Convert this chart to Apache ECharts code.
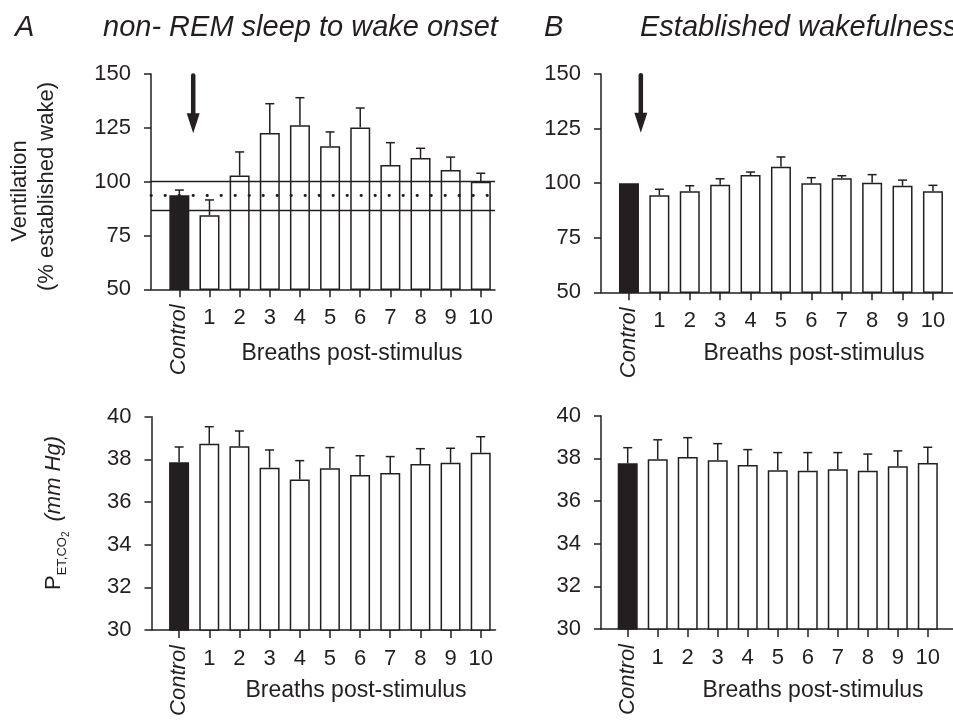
<!DOCTYPE html>
<html><head><meta charset="utf-8">
<script src="https://cdn.jsdelivr.net/npm/echarts@6/dist/echarts.min.js"></script>
<style>html,body{margin:0;padding:0;background:#fff}#c{width:953px;height:721px}</style>
</head><body><div id="c"></div>
<script>
// ---------- data ----------
const categories = ['Control','1','2','3','4','5','6','7','8','9','10'];
const breathIdx = [0,1,2,3,4,5,6,7,8,9,10];

// Ventilation (% established wake)
const ventNrem    = [93.7, 84.4, 102.8, 122.6, 126.2, 116.4, 125.1, 107.7, 111.0, 105.4, 100.0];
const ventNremErr = [2.4, 7.1, 11.0, 13.6, 12.8, 6.7, 9.1, 10.4, 4.5, 6.0, 3.9];
const ventWake    = [100.0, 94.4, 96.3, 99.3, 103.7, 107.5, 99.9, 102.2, 100.2, 98.8, 96.3];
const ventWakeErr = [0, 2.8, 2.5, 2.7, 1.4, 4.5, 2.6, 1.2, 3.7, 2.6, 2.7];

// PET,CO2 (mm Hg)
const petNrem    = [37.86, 38.73, 38.61, 37.61, 37.05, 37.58, 37.27, 37.36, 37.78, 37.84, 38.31];
const petNremErr = [0.72, 0.80, 0.72, 0.83, 0.89, 0.97, 0.90, 0.77, 0.72, 0.68, 0.75];
const petWake    = [37.77, 37.96, 38.06, 37.91, 37.69, 37.44, 37.42, 37.49, 37.42, 37.63, 37.78];
const petWakeErr = [0.73, 0.91, 0.91, 0.78, 0.72, 0.83, 0.85, 0.78, 0.78, 0.72, 0.74];

// Established-wake control band in panel A: [mean - SD, mean, mean + SD]
const nremBand = [86.9, 93.7, 100.4];

// tick labels
const ventTicks = [50, 75, 100, 125, 150];
const petTicks  = [30, 32, 34, 36, 38, 40];

// stimulus arrows: [x position, top value, tip value]
const arrowA = [0.46, 149.3, 122.5];
const arrowB = [0.39, 149.4, 123.1];

// ---------- chart ----------
const INK = '#231f20';
const FONT = 'Liberation Sans';
const chart = echarts.init(document.getElementById('c'), null, {renderer:'canvas'});

const grids = [
  {left:151, top:74, width:344, height:215.3},
  {left:601, top:74, width:352, height:218.3},
  {left:151.5, top:416.7, width:344, height:213.3},
  {left:601, top:415.7, width:352, height:213.3}
];
const xr = [[-0.94, 10.47], [-0.92, 10.66], [-0.915, 10.49], [-0.89, 10.84]];

function xMain(g){
  return {type:'value', gridIndex:g, min:xr[g][0], max:xr[g][1], position:'bottom',
    axisLine:{show:true, onZero:false, lineStyle:{color:INK, width:1.5}},
    axisTick:{show:true, customValues:breathIdx, length:8, lineStyle:{color:INK, width:1.5}},
    axisLabel:{show:true, customValues:breathIdx.slice(1), formatter:v=>categories[v],
      fontSize:22, color:INK, margin:18, fontFamily:FONT},
    splitLine:{show:false}};
}
function xCtrl(g){
  return {type:'value', gridIndex:g, min:xr[g][0], max:xr[g][1], position:'bottom', offset:0,
    axisLine:{show:false, onZero:false}, axisTick:{show:false}, splitLine:{show:false},
    axisLabel:{show:true, customValues:[0], formatter:()=>categories[0], rotate:90,
      fontStyle:'italic', fontSize:22, color:INK, margin:15, fontFamily:FONT}};
}
function yAx(g, ticks){
  return {type:'value', gridIndex:g, min:ticks[0], max:ticks[ticks.length-1], interval:ticks[1]-ticks[0],
    position:'left',
    axisLine:{show:true, onZero:false, lineStyle:{color:INK, width:1.5}},
    axisTick:{show:true, length:7, lineStyle:{color:INK, width:1.5}},
    axisLabel:{fontSize:22, color:INK, margin:20, fontFamily:FONT},
    splitLine:{show:false}};
}

function barSeries(g, vals){
  return {type:'bar', xAxisIndex:g, yAxisIndex:g, barWidth:20, animation:false, z:2,
    data: breathIdx.map((x,i)=>({value:[x, vals[i]], itemStyle:{color: i===0 ? INK : '#ffffff'}})),
    itemStyle:{borderColor:INK, borderWidth:1.5}};
}
function errSeries(g, vals, errs, extra){
  const s = {type:'custom', xAxisIndex:g, yAxisIndex:g, animation:false, z:3, silent:true,
    data: breathIdx.map((x,i)=>[x, vals[i], errs[i]]),
    encode:{x:0, y:1},
    renderItem(params, api){
      const x = api.value(0), v = api.value(1), e = api.value(2);
      if (!e) return {type:'group', children:[]};
      const b = api.coord([x, v]); const t = api.coord([x, v+e]);
      return {type:'group', children:[
        {type:'line', shape:{x1:b[0], y1:b[1], x2:t[0], y2:t[1]}, style:{stroke:INK, lineWidth:1.5}},
        {type:'line', shape:{x1:t[0]-4.5, y1:t[1], x2:t[0]+4.5, y2:t[1]}, style:{stroke:INK, lineWidth:1.5}}
      ]};
    }};
  return Object.assign(s, extra||{});
}
function arrowSeries(g, arr){
  return {type:'custom', xAxisIndex:g, yAxisIndex:g, animation:false, z:4, silent:true,
    data:[arr], encode:{x:0, y:[1,2]},
    renderItem(params, api){
      const top = api.coord([api.value(0), api.value(1)]);
      const tip = api.coord([api.value(0), api.value(2)]);
      const hl = 20, hw = 6.5;
      return {type:'group', children:[
        {type:'line', shape:{x1:top[0], y1:top[1], x2:tip[0], y2:tip[1]-hl+2},
          style:{stroke:INK, lineWidth:4.5, lineCap:'round'}},
        {type:'polygon', shape:{points:[[tip[0]-hw, tip[1]-hl],[tip[0]+hw, tip[1]-hl],[tip[0], tip[1]]]},
          style:{fill:INK}}
      ]};
    }};
}

const bandLines = {
  silent:true, symbol:'none', animation:false, label:{show:false},
  data:[
    {yAxis:nremBand[0], lineStyle:{color:INK, width:1.3, type:'solid'}},
    {yAxis:nremBand[1], lineStyle:{color:INK, width:2.8, type:[0.4, 13.6], cap:'round'}},
    {yAxis:nremBand[2], lineStyle:{color:INK, width:1.3, type:'solid'}}
  ]
};

function txt(x, y, text, size, opts){
  return Object.assign({type:'text', x, y, silent:true,
    style:Object.assign({text, fill:INK, font:(opts&&opts.italic?'italic ':'')+size+'px "'+FONT+'"',
      align:(opts&&opts.align)||'left', verticalAlign:'middle'}, (opts&&opts.style)||{})},
    opts&&opts.rotation!==undefined ? {rotation:opts.rotation} : {});
}

const option = {
  backgroundColor:'#ffffff',
  animation:false,
  grid: grids.map(g=>Object.assign({containLabel:false}, g)),
  xAxis:[xMain(0), xMain(1), xMain(2), xMain(3), xCtrl(0), xCtrl(1), xCtrl(2), xCtrl(3)],
  yAxis:[yAx(0, ventTicks), yAx(1, ventTicks), yAx(2, petTicks), yAx(3, petTicks)],
  series:[
    barSeries(0, ventNrem), errSeries(0, ventNrem, ventNremErr, {markLine:bandLines}), arrowSeries(0, arrowA),
    barSeries(1, ventWake), errSeries(1, ventWake, ventWakeErr), arrowSeries(1, arrowB),
    barSeries(2, petNrem), errSeries(2, petNrem, petNremErr),
    barSeries(3, petWake), errSeries(3, petWake, petWakeErr)
  ],
  graphic:[
    txt(15, 28, 'A', 29, {italic:true}),
    txt(103, 28, 'non- REM sleep to wake onset', 29, {italic:true}),
    txt(544, 28, 'B', 29, {italic:true}),
    txt(640, 28, 'Established wakefulness', 29, {italic:true}),
    txt(20, 191, 'Ventilation', 22, {align:'center', rotation:Math.PI/2}),
    txt(47, 186.5, '(% established wake)', 22, {align:'center', rotation:Math.PI/2}),
    txt(352, 354, 'Breaths post-stimulus', 23, {align:'center'}),
    txt(814, 354, 'Breaths post-stimulus', 23, {align:'center'}),
    txt(356, 691, 'Breaths post-stimulus', 23, {align:'center'}),
    txt(813, 691, 'Breaths post-stimulus', 23, {align:'center'}),
    {type:'text', x:54, y:513, rotation:Math.PI/2, silent:true,
      style:{text:'{p|P}{s|ET,CO}{s2|2}   {i|(mm Hg)}', align:'center', verticalAlign:'middle', fill:INK,
        rich:{
          p:{fontSize:22, fontFamily:FONT, fill:INK, verticalAlign:'bottom'},
          s:{fontSize:13, fontFamily:FONT, fill:INK, verticalAlign:'bottom', padding:[0,0,-4,0]},
          s2:{fontSize:10, fontFamily:FONT, fill:INK, verticalAlign:'bottom', padding:[0,0,-6,0]},
          i:{fontSize:22, fontFamily:FONT, fontStyle:'italic', fill:INK, verticalAlign:'bottom'}
        }}}
  ]
};
chart.setOption(option);
</script></body></html>
